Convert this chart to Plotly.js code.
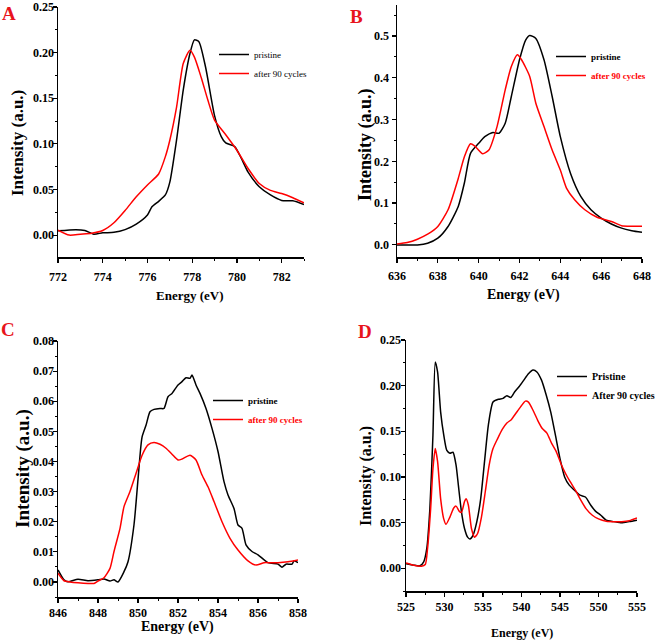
<!DOCTYPE html>
<html>
<head>
<meta charset="utf-8">
<script src="https://cdn.plot.ly/plotly-3.0.1.min.js"></script>
<style>html,body{margin:0;padding:0;background:#fff;}#chart{width:658px;height:643px;}</style>
</head>
<body>
<div id="chart"></div>
<script>
// Panel A (772-783 eV)
const aPristineX = [772,772.8,773.2,773.6,774,774.5,775,775.5,776,776.2,776.5,776.8,777,777.3,777.6,777.9,778.1,778.3,778.6,779,779.3,779.5,779.9,780.2,780.5,781,781.5,782,782.5,783];
const aPristineY = [0.0047,0.006,0.005,0.001,0.0025,0.003,0.006,0.012,0.022,0.031,0.037,0.044,0.058,0.104,0.159,0.199,0.214,0.212,0.184,0.131,0.108,0.101,0.097,0.084,0.069,0.053,0.044,0.038,0.0376,0.0336];
const aCycledX = [772,772.5,773,773.5,774,774.5,775,775.5,776,776.5,776.8,777,777.3,777.6,777.9,778.1,778.4,778.7,779,779.5,780,780.5,781,781.5,782,782.5,783];
const aCycledY = [0.0055,0.0,0.001,0.002,0.005,0.0135,0.027,0.042,0.055,0.067,0.086,0.104,0.14,0.188,0.2025,0.195,0.173,0.148,0.126,0.11,0.093,0.073,0.0566,0.049,0.0456,0.041,0.0354];

// Panel B (636-648 eV)
const bPristineX = [636,637,637.5,638,638.5,639,639.3,639.6,640,640.3,640.7,641,641.3,641.6,642,642.3,642.5,642.8,643.2,643.6,644,644.5,645,645.5,646,646.5,647,647.5,648];
const bPristineY = [0.0,0.0,0.004,0.016,0.044,0.092,0.148,0.219,0.243,0.259,0.269,0.267,0.291,0.355,0.443,0.49,0.501,0.494,0.443,0.355,0.259,0.171,0.116,0.084,0.064,0.050,0.040,0.034,0.030];
const bCycledX = [636,636.5,637,637.5,638,638.5,639,639.3,639.6,639.8,640.2,640.5,640.9,641.3,641.6,641.9,642.1,642.5,642.8,643.2,643.6,644,644.3,644.7,645.2,645.8,646.5,647,647.5,648];
const bCycledY = [0.002,0.0056,0.0136,0.0255,0.044,0.084,0.159,0.211,0.242,0.237,0.218,0.227,0.283,0.371,0.427,0.455,0.443,0.403,0.339,0.283,0.227,0.179,0.136,0.108,0.084,0.066,0.056,0.046,0.0447,0.0447];

// Panel C (846-858 eV)
const cPristineX = [846,846.3,846.5,847,847.5,848,848.3,848.6,848.8,849,849.3,849.5,849.8,850,850.2,850.4,850.6,850.8,851.1,851.3,851.5,851.7,852,852.2,852.4,852.6,852.7,852.9,853.1,853.4,853.7,854,854.3,854.5,854.8,855,855.2,855.4,855.7,856,856.5,857,857.2,857.4,857.7,857.8,858];
const cPristineY = [0.004,0.0007,0.0001,0.0009,0.0004,0.0007,0.001,0.0003,0.0007,0.0,0.0034,0.0067,0.019,0.034,0.048,0.052,0.0565,0.0573,0.0576,0.0576,0.0615,0.0626,0.0654,0.0665,0.0678,0.0676,0.0687,0.0654,0.0626,0.0576,0.051,0.0433,0.0333,0.0289,0.0244,0.0189,0.0178,0.0123,0.0101,0.009,0.0064,0.0059,0.0049,0.0059,0.0059,0.007,0.0064];
const cCycledX = [846,846.3,846.6,847,847.5,847.8,848,848.3,848.6,848.8,849.1,849.3,849.6,849.9,850.2,850.5,850.8,851.1,851.4,851.7,852,852.2,852.6,852.9,853.2,853.5,853.8,854.2,854.6,855,855.5,855.9,856.3,856.6,857,857.5,858];
const cCycledY = [0.0029,0.0004,0.0,-0.0003,-0.0005,-0.0005,0.0003,0.0014,0.0045,0.0101,0.0178,0.025,0.030,0.036,0.042,0.0455,0.0463,0.0457,0.0444,0.0424,0.0405,0.0408,0.0421,0.0405,0.0355,0.0316,0.0267,0.020,0.0145,0.0106,0.007,0.0056,0.0064,0.0064,0.0064,0.0067,0.0073];

// Panel D (525-555 eV)
const dPristineX = [525,526,526.8,527.3,527.7,528.1,528.5,528.8,529.1,529.5,529.9,530.3,530.7,531.1,531.5,531.8,532.2,532.6,533,533.3,533.7,534.2,534.7,535.2,535.7,536.3,537,537.6,538.1,538.6,539.1,539.7,540.3,540.9,541.5,542,542.6,543.2,543.8,544.4,545,545.6,546.2,547,547.6,548.3,549,549.6,550.3,551,552,553,554,555];
const dPristineY = [0.005,0.0033,0.0026,0.007,0.0216,0.065,0.146,0.226,0.215,0.171,0.146,0.129,0.126,0.127,0.113,0.091,0.062,0.0435,0.034,0.032,0.036,0.051,0.076,0.117,0.157,0.182,0.185,0.186,0.189,0.187,0.193,0.199,0.206,0.213,0.217,0.215,0.206,0.19,0.171,0.146,0.12,0.1,0.091,0.0844,0.08,0.078,0.069,0.0625,0.058,0.0526,0.051,0.0497,0.051,0.0526];
const dCycledX = [525,526,527,527.5,527.8,528.2,528.5,528.8,529.1,529.5,529.9,530.2,530.7,531.2,531.5,531.9,532.2,532.6,532.8,533.1,533.5,533.9,534.3,534.8,535.3,535.8,536.3,536.9,537.5,538.1,538.7,539.3,539.9,540.5,540.9,541.5,542.1,542.7,543.3,543.9,544.5,545.1,545.7,546.3,547,547.7,548.4,549.2,550,551,552,553,554,555];
const dCycledY = [0.0058,0.0033,0.0022,0.004,0.0216,0.065,0.109,0.131,0.117,0.076,0.054,0.048,0.056,0.066,0.068,0.0625,0.061,0.073,0.076,0.069,0.0435,0.034,0.038,0.056,0.084,0.113,0.131,0.142,0.152,0.159,0.163,0.17,0.177,0.183,0.182,0.173,0.162,0.153,0.148,0.137,0.128,0.115,0.104,0.095,0.0855,0.0746,0.065,0.058,0.054,0.0515,0.051,0.051,0.052,0.055];

const panelLetters = ['A','B','C','D'];
const legendNames = [
  ['pristine','after 90 cycles'],
  ['pristine','<span style="color:#ff0000">after 90 cycles</span>'],
  ['pristine','<span style="color:#ff0000">after 90 cycles</span>'],
  ['Pristine','After 90 cycles']
];
const xTitle = 'Energy (eV)';
const yTitle = 'Intensity (a.u.)';

const BLACK = '#000000', RED = '#ff0000';
const W = 658, H = 643;
const px = v => v / W;
const py = v => 1 - v / H;
const SERIF = 'Liberation Serif, Times New Roman, serif';

const series = [
  [aPristineX, aPristineY, aCycledX, aCycledY],
  [bPristineX, bPristineY, bCycledX, bCycledY],
  [cPristineX, cPristineY, cCycledX, cCycledY],
  [dPristineX, dPristineY, dCycledX, dCycledY]
];
const legendIds = ['legend','legend2','legend3','legend4'];
const traces = [];
series.forEach((s, i) => {
  const xa = i === 0 ? 'x' : 'x' + (i + 1);
  const ya = i === 0 ? 'y' : 'y' + (i + 1);
  traces.push({x: s[0], y: s[1], type: 'scatter', mode: 'lines', name: legendNames[i][0],
    line: {color: BLACK, width: 1.5, shape: 'spline', smoothing: 0.6}, xaxis: xa, yaxis: ya, legend: legendIds[i]});
  traces.push({x: s[2], y: s[3], type: 'scatter', mode: 'lines', name: legendNames[i][1],
    line: {color: RED, width: 1.5, shape: 'spline', smoothing: 0.6}, xaxis: xa, yaxis: ya, legend: legendIds[i]});
});

const tickFont = {family: SERIF, size: 12, color: '#000', weight: 'bold'};
function xax(domain, range, dtick, minorD, anchor, lblOff) {
  return {domain: domain, range: range, dtick: dtick, tick0: range[0], anchor: anchor,
    showline: true, linecolor: '#000', linewidth: 1.5, ticks: 'outside', ticklen: 4, tickwidth: 1.2, tickcolor: '#000',
    minor: {ticks: 'outside', ticklen: 2, dtick: minorD, tickcolor: '#000', tickwidth: 1},
    showgrid: false, zeroline: false, tickfont: tickFont, ticklabelstandoff: lblOff};
}
function yax(domain, range, dtick, minorD, anchor, fmt, lblOff) {
  return {domain: domain, range: range, dtick: dtick, tick0: 0, anchor: anchor, tickformat: fmt,
    showline: true, linecolor: '#000', linewidth: 1.5, ticks: 'outside', ticklen: 4, tickwidth: 1.2, tickcolor: '#000',
    minor: {ticks: 'outside', ticklen: 2, dtick: minorD, tickcolor: '#000', tickwidth: 1},
    showgrid: false, zeroline: false, tickfont: tickFont, ticklabelstandoff: lblOff};
}

function legendAt(x, y, size, weight) {
  return {x: px(x), y: py(y), xanchor: 'left', yanchor: 'top', bgcolor: 'rgba(0,0,0,0)',
    font: {family: SERIF, size: size, color: '#000', weight: weight}, itemwidth: 30, tracegroupgap: 0};
}

const annotations = [];
const letterPos = [[9, 14], [356, 16], [8, 329], [365, 331]];
panelLetters.forEach((t, i) => annotations.push({
  text: t, x: px(letterPos[i][0]), y: py(letterPos[i][1]), xref: 'paper', yref: 'paper',
  showarrow: false, xanchor: 'center', yanchor: 'middle',
  font: {family: SERIF, size: 19, color: '#e8141c', weight: 'bold'}
}));
// axis titles: [cx, cy, size]
const xTitlePos = [[190, 295, 13], [523, 295, 14], [177, 627, 14], [522, 633, 12]];
const yTitlePos = [[17, 143, 17], [366, 145, 18], [23, 469, 19], [366, 476, 16]];
xTitlePos.forEach(p => annotations.push({
  text: xTitle, x: px(p[0]), y: py(p[1]), xref: 'paper', yref: 'paper', showarrow: false,
  xanchor: 'center', yanchor: 'middle', font: {family: SERIF, size: p[2], color: '#000', weight: 'bold'}
}));
yTitlePos.forEach(p => annotations.push({
  text: yTitle, x: px(p[0]), y: py(p[1]), xref: 'paper', yref: 'paper', showarrow: false, textangle: -90,
  xanchor: 'center', yanchor: 'middle', font: {family: SERIF, size: p[2], color: '#000', weight: 'bold'}
}));

const layout = {
  width: W, height: H, margin: {l: 0, r: 0, t: 0, b: 0, autoexpand: false},
  paper_bgcolor: '#fff', plot_bgcolor: '#fff', showlegend: true,
  xaxis: xax([px(58), px(304)], [772, 783], 2, 1, 'y', 4),
  yaxis: yax([py(257), py(7)], [-0.024, 0.25], 0.05, 0.025, 'x', '.2f', -4),
  xaxis2: xax([px(397), px(642)], [636, 648], 2, 1, 'y2', 3),
  yaxis2: yax([py(257), py(5)], [-0.029, 0.574], 0.1, 0.05, 'x2', '.1f', 0),
  xaxis3: xax([px(58), px(298)], [846, 858], 2, 1, 'y3', 0),
  yaxis3: yax([py(597), py(341)], [-0.005, 0.08], 0.01, 0.005, 'x3', '.2f', -4),
  xaxis4: xax([px(406), px(637)], [525, 555], 5, 2.5, 'y4', 0),
  yaxis4: yax([py(591), py(340)], [-0.025, 0.25], 0.05, 0.025, 'x4', '.2f', -3),
  legend: legendAt(214, 40, 9, 'normal'),
  legend2: legendAt(551, 42, 9, 'bold'),
  legend3: legendAt(208, 386, 9, 'bold'),
  legend4: legendAt(552, 362, 10, 'bold'),
  annotations: annotations
};

Plotly.newPlot('chart', traces, layout, {staticPlot: true, displayModeBar: false});
</script>
</body>
</html>
